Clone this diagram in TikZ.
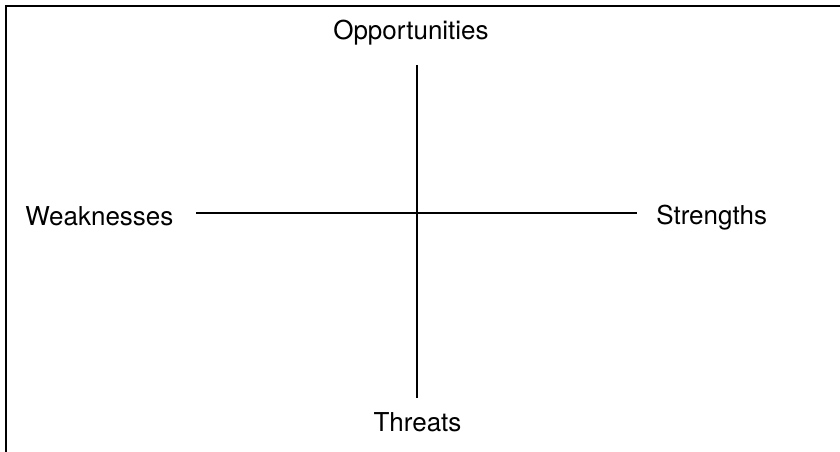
\documentclass[tikz,border=0pt]{standalone}
\usepackage{fontspec}
\setmainfont{TeX Gyre Heros}
\usetikzlibrary{positioning}
\tikzset{
    label/.style={inner sep=0pt, font=\fontsize{14.8pt}{17pt}\selectfont},
    axis/.style={line width=1.3pt}
}
\begin{document}
\begin{tikzpicture}[x=0.02cm, y=-0.02cm]
        \useasboundingbox (0,0) rectangle (840,452);
        \draw[axis] (6,460) -- (6,6) -- (850,6);

        \node[label, anchor=base] (opp) at (411,40) {Opportunities};
        \node[label, anchor=base] (thr) at (417.5,432) {Threats};
        \node[label, anchor=base west] (weak) at (25,226) {Weaknesses};
        \node[label, anchor=base west] (str) at (656,225) {Strengths};

        \coordinate (top) at (417,65);
        \coordinate (bottom) at (417,398);
        \coordinate (left) at (196,213);
        \coordinate (right) at (637,213);
        \draw[axis] (top) -- (bottom);
        \draw[axis] (left) -- (right);
    \end{tikzpicture}
\end{document}
